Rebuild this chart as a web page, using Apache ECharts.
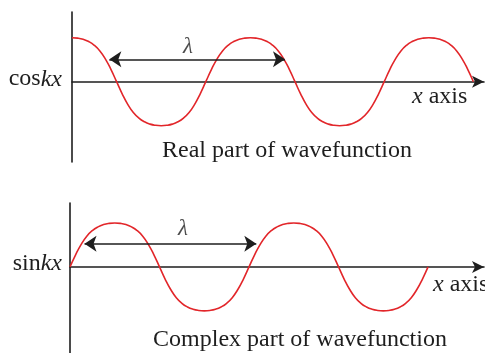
<!DOCTYPE html>
<html>
<head>
<meta charset="utf-8">
<script src="https://cdn.jsdelivr.net/npm/echarts@6/dist/echarts.min.js"></script>
<style>
  html, body { margin: 0; background: #fff; }
  #chart { width: 485px; height: 353px; }
</style>
</head>
<body>
<div id="chart"></div>
<script>
// x is the sample index, 32 samples per wavelength (lambda)
const samples = [0, 1, 2, 3, 4, 5, 6, 7, 8, 9, 10, 11, 12, 13, 14, 15, 16, 17, 18, 19, 20,
  21, 22, 23, 24, 25, 26, 27, 28, 29, 30, 31, 32, 33, 34, 35, 36, 37, 38, 39, 40, 41, 42,
  43, 44, 45, 46, 47, 48, 49, 50, 51, 52, 53, 54, 55, 56, 57, 58, 59, 60, 61, 62, 63, 64,
  65, 66, 67, 68, 69, 70, 71, 72];

// real part (cos kx)
const realPart = [
  1, 0.991, 0.964, 0.912, 0.828, 0.7, 0.515, 0.276, 0, -0.276, -0.515, -0.7, -0.828, -0.912, -0.964, -0.991,
  -1, -0.991, -0.964, -0.912, -0.828, -0.7, -0.515, -0.276, 0, 0.276, 0.515, 0.7, 0.828, 0.912, 0.964, 0.991,
  1, 0.991, 0.964, 0.912, 0.828, 0.7, 0.515, 0.276, 0, -0.276, -0.515, -0.7, -0.828, -0.912, -0.964, -0.991,
  -1, -0.991, -0.964, -0.912, -0.828, -0.7, -0.515, -0.276, 0, 0.276, 0.515, 0.7, 0.828, 0.912, 0.964, 0.991,
  1, 0.991, 0.964, 0.912, 0.828, 0.7, 0.515, 0.276, 0];

// complex part (sin kx)
const imagPart = [
  0, 0.276, 0.515, 0.7, 0.828, 0.912, 0.964, 0.991, 1, 0.991, 0.964, 0.912, 0.828, 0.7, 0.515, 0.276,
  0, -0.276, -0.515, -0.7, -0.828, -0.912, -0.964, -0.991, -1, -0.991, -0.964, -0.912, -0.828, -0.7, -0.515, -0.276,
  0, 0.276, 0.515, 0.7, 0.828, 0.912, 0.964, 0.991, 1, 0.991, 0.964, 0.912, 0.828, 0.7, 0.515, 0.276,
  0, -0.276, -0.515, -0.7, -0.828, -0.912, -0.964, -0.991, -1, -0.991, -0.964, -0.912, -0.828, -0.7, -0.515, -0.276,
  0];

// wavelength arrows: [from, to] in samples, at height y
const lambdaTop = [6.7, 38.2];
const lambdaTopY = 0.51;
const lambdaBottom = [2.6, 33.3];
const lambdaBottomY = 0.53;
const lambdaLabelTop = [20.8, 0.79];
const lambdaLabelBottom = [20.2, 0.86];

const serif = '"Liberation Serif", "DejaVu Serif", serif';
const ink = '#1e1e1e';
const red = '#e2262a';

const chart = echarts.init(document.getElementById('chart'));

function axisName(fn, pad) {
  return {
    name: '{a|' + fn + '}{b|kx}',
    nameLocation: 'start',
    nameTextStyle: {
      padding: [0, 0, pad, 0],
      rich: {
        a: { fontSize: 24, fontFamily: serif, color: ink },
        b: { fontSize: 24, fontFamily: serif, fontStyle: 'italic', color: ink }
      }
    }
  };
}

const xBase = {
  type: 'value',
  min: 0,
  axisLine: { onZero: true, symbol: ['none', 'arrow'], symbolSize: [9, 12], lineStyle: { color: ink, width: 1.6 } },
  axisTick: { show: false },
  axisLabel: { show: false },
  splitLine: { show: false }
};
const yBase = {
  type: 'value',
  axisLine: { show: true, onZero: false, lineStyle: { color: ink, width: 1.6 } },
  axisTick: { show: false },
  axisLabel: { show: false },
  splitLine: { show: false }
};

function arrow(span, y) {
  return {
    silent: true,
    symbol: ['arrow', 'arrow'],
    symbolSize: [12, 12],
    label: { show: false },
    lineStyle: { color: ink, width: 1.6, type: 'solid' },
    emphasis: { disabled: true },
    data: [[{ coord: [span[0], y] }, { coord: [span[1], y] }]]
  };
}

function lambdaLabel(pos, idx) {
  return {
    type: 'scatter',
    xAxisIndex: idx, yAxisIndex: idx,
    symbolSize: 1,
    itemStyle: { color: 'rgba(0,0,0,0)' },
    silent: true,
    label: {
      show: true, position: 'inside', formatter: '\u03bb',
      fontSize: 23, fontStyle: 'italic', fontFamily: serif, color: ink
    },
    data: [pos]
  };
}

function curve(values, idx, span, y) {
  return {
    type: 'line', xAxisIndex: idx, yAxisIndex: idx,
    data: values.map((v, i) => [samples[i], v]),
    smooth: true, showSymbol: false, silent: true,
    lineStyle: { color: red, width: 1.6 },
    markLine: arrow(span, y)
  };
}

chart.setOption({
  animation: false,
  backgroundColor: '#fff',
  grid: [
    { left: 72, top: 12, width: 412, height: 150 },
    { left: 70, top: 203, width: 414, height: 150 }
  ],
  xAxis: [
    Object.assign({}, xBase, axisName('cos', 5), { gridIndex: 0, max: 73.9, nameGap: 10 }),
    Object.assign({}, xBase, axisName('sin', 6), { gridIndex: 1, max: 74.0, nameGap: 8 })
  ],
  yAxis: [
    Object.assign({}, yBase, { gridIndex: 0, min: -1.825, max: 1.584 }),
    Object.assign({}, yBase, { gridIndex: 1, min: -1.96, max: 1.455 })
  ],
  series: [
    curve(realPart, 0, lambdaTop, lambdaTopY),
    curve(imagPart, 1, lambdaBottom, lambdaBottomY),
    lambdaLabel(lambdaLabelTop, 0),
    lambdaLabel(lambdaLabelBottom, 1)
  ],
  graphic: [
    { type: 'text', x: 287, y: 151, silent: true,
      style: { text: 'Real part of wavefunction', font: '24px ' + serif, fill: ink, align: 'center', verticalAlign: 'middle' } },
    { type: 'text', x: 300, y: 339.5, silent: true,
      style: { text: 'Complex part of wavefunction', font: '24px ' + serif, fill: ink, align: 'center', verticalAlign: 'middle' } },
    { type: 'text', x: 412, y: 96.5, silent: true,
      style: { text: '{i|x} axis', font: '24px ' + serif, fill: ink, align: 'left', verticalAlign: 'middle',
        rich: { i: { font: 'italic 24px ' + serif, fill: ink } } } },
    { type: 'text', x: 433, y: 285, silent: true,
      style: { text: '{i|x} axis', font: '24px ' + serif, fill: ink, align: 'left', verticalAlign: 'middle',
        rich: { i: { font: 'italic 24px ' + serif, fill: ink } } } }
  ]
});
</script>
</body>
</html>
